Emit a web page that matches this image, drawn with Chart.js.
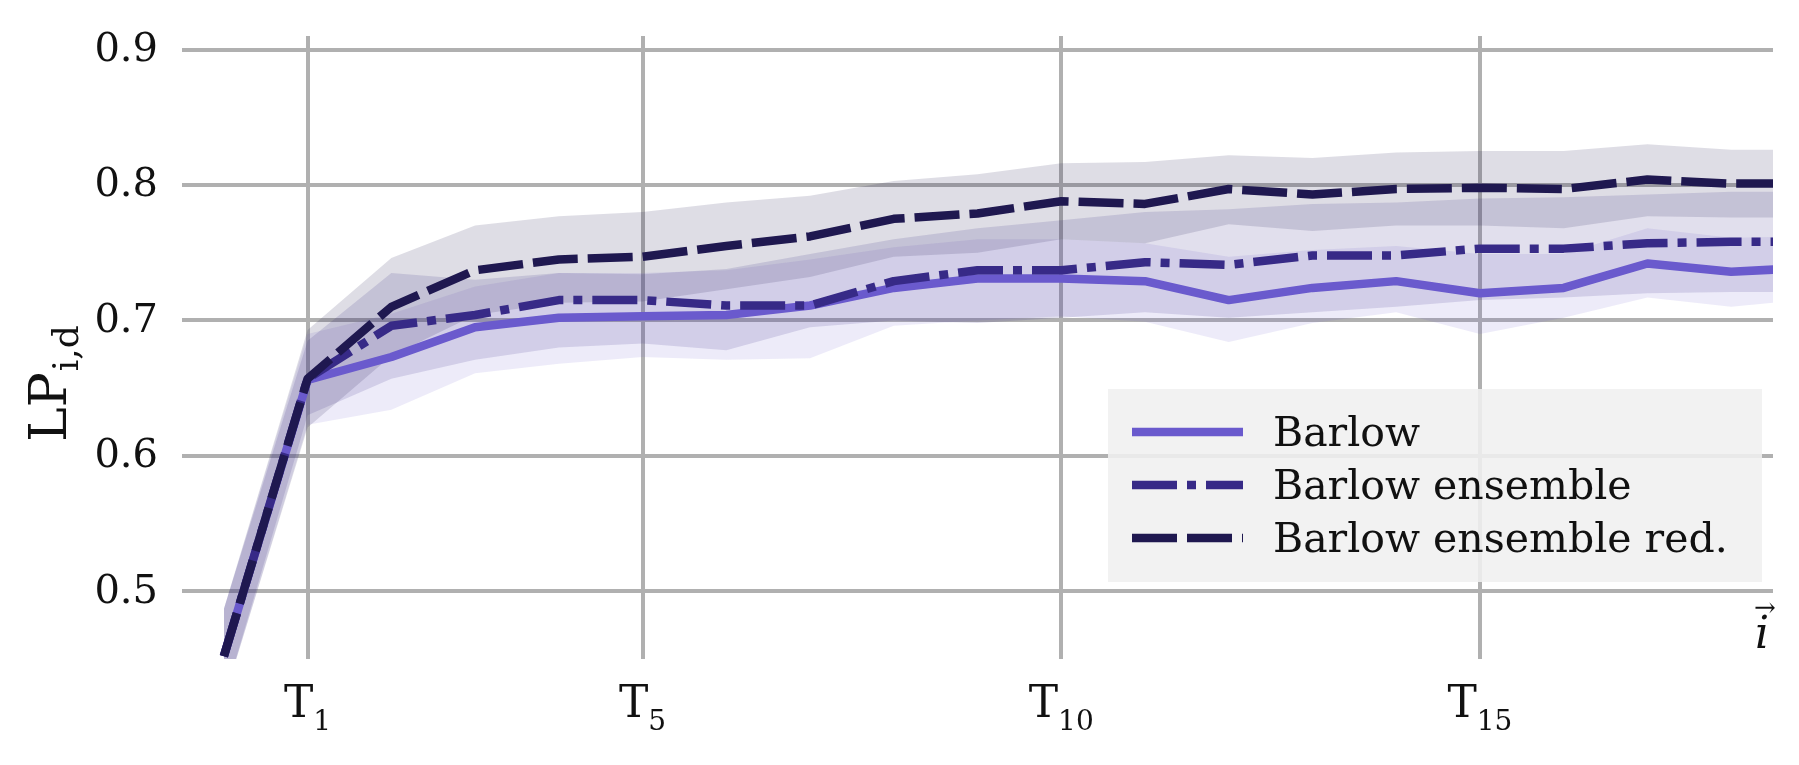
<!DOCTYPE html>
<html>
<head>
<meta charset="utf-8">
<script src="https://cdn.jsdelivr.net/npm/chart.js@4.4.1/dist/chart.umd.min.js"></script>
<style>
    html, body { margin: 0; padding: 0; background: #fff; }
    #wrap { width: 1799px; height: 765px; }
</style>
</head>
<body>
<div id="wrap"><canvas id="chart"></canvas></div>
<script>
// tasks T0..T19 (last one lies past the right edge of the plot)
const steps = [0, 1, 2, 3, 4, 5, 6, 7, 8, 9, 10, 11, 12, 13, 14, 15, 16, 17, 18, 19];

const barlow     = [0.452, 0.656, 0.673, 0.695, 0.702, 0.703, 0.704, 0.711, 0.724, 0.731, 0.731, 0.729, 0.715, 0.724, 0.729, 0.720, 0.724, 0.742, 0.736, 0.739];
const barlowLow  = [0.420, 0.623, 0.634, 0.661, 0.668, 0.673, 0.671, 0.672, 0.696, 0.700, 0.703, 0.699, 0.684, 0.698, 0.706, 0.690, 0.702, 0.717, 0.710, 0.716];
const barlowHigh = [0.487, 0.690, 0.705, 0.725, 0.735, 0.735, 0.737, 0.745, 0.754, 0.760, 0.760, 0.757, 0.747, 0.752, 0.755, 0.749, 0.749, 0.768, 0.761, 0.762];

const ensemble     = [0.452, 0.657, 0.696, 0.704, 0.715, 0.715, 0.711, 0.711, 0.729, 0.737, 0.737, 0.743, 0.741, 0.748, 0.748, 0.753, 0.753, 0.757, 0.758, 0.758];
const ensembleLow  = [0.420, 0.630, 0.657, 0.671, 0.680, 0.683, 0.678, 0.695, 0.700, 0.698, 0.702, 0.706, 0.702, 0.706, 0.710, 0.715, 0.717, 0.720, 0.721, 0.721];
const ensembleHigh = [0.487, 0.685, 0.735, 0.730, 0.735, 0.734, 0.738, 0.749, 0.760, 0.768, 0.774, 0.780, 0.782, 0.786, 0.787, 0.790, 0.791, 0.793, 0.795, 0.795];

const reduced     = [0.452, 0.657, 0.710, 0.737, 0.745, 0.747, 0.755, 0.762, 0.775, 0.779, 0.788, 0.786, 0.797, 0.793, 0.797, 0.798, 0.797, 0.804, 0.801, 0.801];
const reducedLow  = [0.420, 0.621, 0.674, 0.704, 0.713, 0.714, 0.723, 0.732, 0.747, 0.750, 0.760, 0.757, 0.771, 0.766, 0.770, 0.770, 0.768, 0.777, 0.776, 0.776];
const reducedHigh = [0.487, 0.693, 0.746, 0.770, 0.777, 0.780, 0.787, 0.792, 0.803, 0.808, 0.816, 0.817, 0.822, 0.820, 0.824, 0.825, 0.825, 0.830, 0.826, 0.826];

const seriesNames = ['Barlow', 'Barlow ensemble', 'Barlow ensemble red.'];
const xTicks = [1, 5, 10, 15];
const xTickSubs = ['1', '5', '10', '15'];
const yTicks = [0.5, 0.6, 0.7, 0.8, 0.9];

const COLORS = {
    barlow: '#6a5acd',
    ensemble: '#372a87',
    reduced: '#1f1850'
};
const FONT = '"DejaVu Serif"';
const LW = 8.5;

function pts(arr) {
    return steps.map((s, i) => ({x: s, y: arr[i]}));
}

function line(label, arr, color, dash, order) {
    return {
        label: label,
        data: pts(arr),
        borderColor: color,
        borderWidth: LW,
        borderDash: dash,
        borderCapStyle: 'butt',
        borderJoinStyle: 'round',
        pointRadius: 0,
        fill: false,
        clip: 0,
        order: order
    };
}

function band(high, low, rgba, order) {
    return [
        {label: '', data: pts(high), borderWidth: 0, pointRadius: 0, fill: false, clip: 0, order: order},
        {label: '', data: pts(low), borderWidth: 0, pointRadius: 0, fill: '-1', backgroundColor: rgba, clip: 0, order: order}
    ];
}

const datasets = [
    line(seriesNames[2], reduced, COLORS.reduced, [45, 10], 0),
    line(seriesNames[1], ensemble, COLORS.ensemble, [45, 10, 9, 10], 1),
    line(seriesNames[0], barlow, COLORS.barlow, [], 2),
    ...band(reducedHigh, reducedLow, 'rgba(31, 24, 80, 0.15)', 3),
    ...band(ensembleHigh, ensembleLow, 'rgba(55, 42, 135, 0.15)', 4),
    ...band(barlowHigh, barlowLow, 'rgba(106, 90, 205, 0.12)', 5)
];

// tick labels, axis labels and the legend box, drawn like matplotlib does
const textPlugin = {
    id: 'texts',
    afterDraw(chart) {
        const ctx = chart.ctx;
        const xs = chart.scales.x, ys = chart.scales.y;
        ctx.save();
        ctx.fillStyle = '#111';

        ctx.font = '40px ' + FONT;
        ctx.textAlign = 'right';
        ctx.textBaseline = 'middle';
        yTicks.forEach(v => ctx.fillText(v.toFixed(1), 158, ys.getPixelForValue(v) + 1));

        ctx.textAlign = 'left';
        ctx.textBaseline = 'alphabetic';
        xTicks.forEach((v, i) => {
            ctx.font = '44px ' + FONT;
            const wT = ctx.measureText('T').width;
            ctx.font = '28px ' + FONT;
            const wS = ctx.measureText(xTickSubs[i]).width;
            const x0 = xs.getPixelForValue(v) - (wT + wS) / 2;
            ctx.font = '44px ' + FONT;
            ctx.fillText('T', x0, 717);
            ctx.font = '28px ' + FONT;
            ctx.fillText(xTickSubs[i], x0 + wT, 730);
        });

        // y label LP_{i,d}
        ctx.save();
        ctx.translate(66, 384);
        ctx.rotate(-Math.PI / 2);
        ctx.font = '52px ' + FONT;
        const wLP = ctx.measureText('LP').width;
        ctx.font = '36px ' + FONT;
        const wSub = ctx.measureText('i,d').width;
        const s = -(wLP + wSub) / 2;
        ctx.font = '52px ' + FONT;
        ctx.fillText('LP', s, 0);
        ctx.font = '36px ' + FONT;
        ctx.fillText('i,d', s + wLP + 1, 12);
        ctx.restore();

        // x label: vector i
        ctx.textAlign = 'center';
        ctx.font = 'italic 44px ' + FONT;
        ctx.fillText('i', 1762, 648);
        ctx.font = '26px ' + FONT;
        ctx.fillText('\u2192', 1765, 616);

        // legend
        ctx.fillStyle = 'rgba(240, 240, 240, 0.88)';
        ctx.fillRect(1108, 389, 654, 193);
        const rows = [432, 485, 538];
        const lineSets = [datasets[2], datasets[1], datasets[0]];
        ctx.font = '41px ' + FONT;
        ctx.textAlign = 'left';
        lineSets.forEach((ds, i) => {
            ctx.beginPath();
            ctx.setLineDash(ds.borderDash);
            ctx.lineCap = 'butt';
            ctx.strokeStyle = ds.borderColor;
            ctx.lineWidth = LW;
            ctx.moveTo(1132, rows[i]);
            ctx.lineTo(1243, rows[i]);
            ctx.stroke();
            ctx.setLineDash([]);
            ctx.fillStyle = '#111';
            ctx.fillText(seriesNames[i], 1273, rows[i] + 14);
        });
        ctx.restore();
    }
};

new Chart(document.getElementById('chart'), {
    type: 'line',
    data: {datasets: datasets},
    options: {
        responsive: true,
        maintainAspectRatio: false,
        animation: false,
        devicePixelRatio: 1,
        layout: {padding: {left: 182, right: 26, top: 36, bottom: 106}},
        plugins: {legend: {display: false}, tooltip: {enabled: false}},
        scales: {
            x: {
                type: 'linear',
                min: -0.5,
                max: 18.5,
                afterBuildTicks: axis => { axis.ticks = xTicks.map(v => ({value: v})); },
                ticks: {display: false},
                grid: {color: '#b0b0b0', lineWidth: 4, drawTicks: false},
                border: {display: false}
            },
            y: {
                min: 0.45,
                max: 0.91,
                afterBuildTicks: axis => { axis.ticks = yTicks.map(v => ({value: v})); },
                ticks: {display: false},
                grid: {color: '#b0b0b0', lineWidth: 4, drawTicks: false},
                border: {display: false}
            }
        }
    },
    plugins: [textPlugin]
});
</script>
</body>
</html>
